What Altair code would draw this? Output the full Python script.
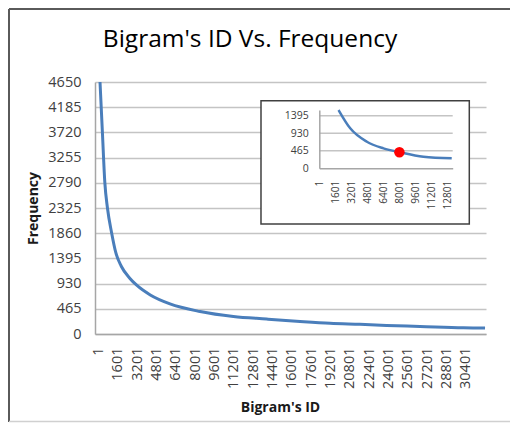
import altair as alt
import pandas as pd

# ---------------- data ----------------
main_ids = [142, 340, 540, 760, 1100, 1450, 1900, 2600, 3176, 4300, 5930, 8413,
            11170, 13925, 16680, 19160, 21625, 23830, 26600, 30180, 31980]
main_freq = [4650, 3722, 2798, 2320, 1870, 1500, 1250, 1030, 900, 720, 555, 415,
             323, 276, 232, 198, 178, 158, 140, 116, 110]

x_ticks = [1, 1601, 3201, 4801, 6401, 8001, 9601, 11201, 12801, 14401, 16001,
           17601, 19201, 20801, 22401, 24001, 25601, 27201, 28801, 30401]
y_ticks = [0, 465, 930, 1395, 1860, 2325, 2790, 3255, 3720, 4185, 4650]

inset_ids = [1924, 3089, 4753, 6407, 8071, 10392, 13221]
inset_freq = [1550, 1063, 707, 531, 425, 308, 266]
inset_x_ticks = [1, 1601, 3201, 4801, 6401, 8001, 9601, 11201, 12801]
inset_y_ticks = [0, 465, 930, 1395]
inset_grid_vals = [465, 930, 1395]
marker_id = [8001]
marker_freq = [425]

title_text = "Bigram's ID Vs. Frequency"

FONT = "Open Sans"
BLUE = "#4a7ebb"
GRID = "#c4c4c4"
AXIS = "#a6a6a6"
LABEL = "#404040"

main_df = pd.DataFrame({"id": main_ids, "freq": main_freq})
inset_df = pd.DataFrame({"id": inset_ids, "freq": inset_freq})
grid_df = pd.DataFrame({"v": inset_grid_vals})
marker_df = pd.DataFrame({"id": marker_id, "freq": marker_freq})
one = alt.Data(values=[{}])

# ---------------- main chart ----------------
main_x = alt.X(
    "id:Q",
    scale=alt.Scale(domain=[-272, 32059], nice=False, zero=False),
    axis=alt.Axis(
        values=x_ticks, format="d", labelAngle=270, labelFontSize=14.5,
        labelFont=FONT, labelColor=LABEL, labelPadding=13, labelOverlap=False,
        labelFlush=False, labelBound=False, ticks=False, grid=False,
        domainColor=AXIS, domainWidth=1.5, title="Bigram's ID", titleFont=FONT,
        titleFontSize=14, titleFontWeight="bold", titleColor="#1a1a1a",
        titleX=185, titleY=77, titleBaseline="alphabetic", titleAnchor="start",
        titleAlign="center",
    ),
)
main_y = alt.Y(
    "freq:Q",
    scale=alt.Scale(domain=[0, 4650], nice=False),
    axis=alt.Axis(
        values=y_ticks, format="d", labelFontSize=14.5, labelFont=FONT,
        labelColor=LABEL, labelPadding=14, ticks=False, grid=True,
        gridColor=GRID, gridWidth=1.5, domainColor=AXIS, domainWidth=1.5,
        labelOverlap=False, title="Frequency", titleFont=FONT, titleFontSize=14,
        titleFontWeight="bold", titleColor="#1a1a1a", titleAngle=270,
        titleX=-62, titleY=126, titleAlign="center", titleBaseline="middle",
    ),
)
main_line = alt.Chart(main_df).mark_line(
    color=BLUE, strokeWidth=3, interpolate="monotone", clip=True
).encode(x=main_x, y=main_y)

# ---------------- frame and title ----------------
frame_top = alt.Chart(one).mark_rule(color="#5a5a5a", strokeWidth=2).encode(
    x=alt.value(-86), x2=alt.value(415), y=alt.value(-73))
frame_left = alt.Chart(one).mark_rule(color="#5a5a5a", strokeWidth=2).encode(
    x=alt.value(-86), y=alt.value(-73), y2=alt.value(340))
frame_bottom = alt.Chart(one).mark_rule(color="#d0d0d0", strokeWidth=1.5).encode(
    x=alt.value(-86), x2=alt.value(415), y=alt.value(339.5))
title = alt.Chart(one).mark_text(
    text=title_text, font=FONT, fontSize=24.5, fontWeight="normal", color="#000000",
    align="center", baseline="alphabetic"
).encode(x=alt.value(155), y=alt.value(-35))

# ---------------- inset chart ----------------
ix_scale = alt.Scale(domain=[1, 13320], range=[224.3, 357.7], nice=False, zero=False)
iy_scale = alt.Scale(domain=[0, 1550], range=[86.3, 28], nice=False)
ix_axis = alt.Axis(
    orient="bottom", offset=-165.7, values=inset_x_ticks, format="d",
    labelAngle=270, labelFontSize=10, labelFont=FONT, labelColor=LABEL,
    labelPadding=12, labelOverlap=False, labelFlush=False, labelBound=False,
    ticks=False, grid=False, domainColor=AXIS, domainWidth=1.5, title=None,
    zindex=1,
)
iy_axis = alt.Axis(
    orient="left", offset=-224.3, values=inset_y_ticks, format="d",
    labelFontSize=10.5, labelFont=FONT, labelColor=LABEL, labelPadding=11,
    labelOverlap=False, labelFlush=False, ticks=False, grid=False,
    domainColor=AXIS, domainWidth=1.5, title=None, zindex=1,
)
inset_box = alt.Chart(one).mark_rect(
    fill="white", stroke="#404040", strokeWidth=1.5
).encode(x=alt.value(166), x2=alt.value(374.3), y=alt.value(18.7), y2=alt.value(142))
inset_grid = alt.Chart(grid_df).mark_rule(color=GRID, strokeWidth=1.5).encode(
    y=alt.Y("v:Q", scale=iy_scale, axis=iy_axis),
    x=alt.value(224.3), x2=alt.value(357.7))
inset_line = alt.Chart(inset_df).mark_line(
    color=BLUE, strokeWidth=2.5, interpolate="monotone"
).encode(
    x=alt.X("id:Q", scale=ix_scale, axis=ix_axis),
    y=alt.Y("freq:Q", scale=iy_scale, axis=iy_axis),
)
inset_pt = alt.Chart(marker_df).mark_circle(color="#ff0000", opacity=1, size=110).encode(
    x=alt.X("id:Q", scale=ix_scale, axis=ix_axis),
    y=alt.Y("freq:Q", scale=iy_scale, axis=iy_axis),
)
inset = alt.layer(inset_box, inset_grid, inset_line, inset_pt)

chart = alt.layer(
    main_line, frame_top, frame_left, frame_bottom, title, inset
).resolve_scale(
    x="independent", y="independent"
).properties(
    width=391, height=252, autosize="none",
    padding={"left": 87, "top": 74, "right": 24, "bottom": 89},
    background="white",
).configure_view(stroke=None)

chart.save("out.html", embed_options={"renderer": "svg", "actions": False})
